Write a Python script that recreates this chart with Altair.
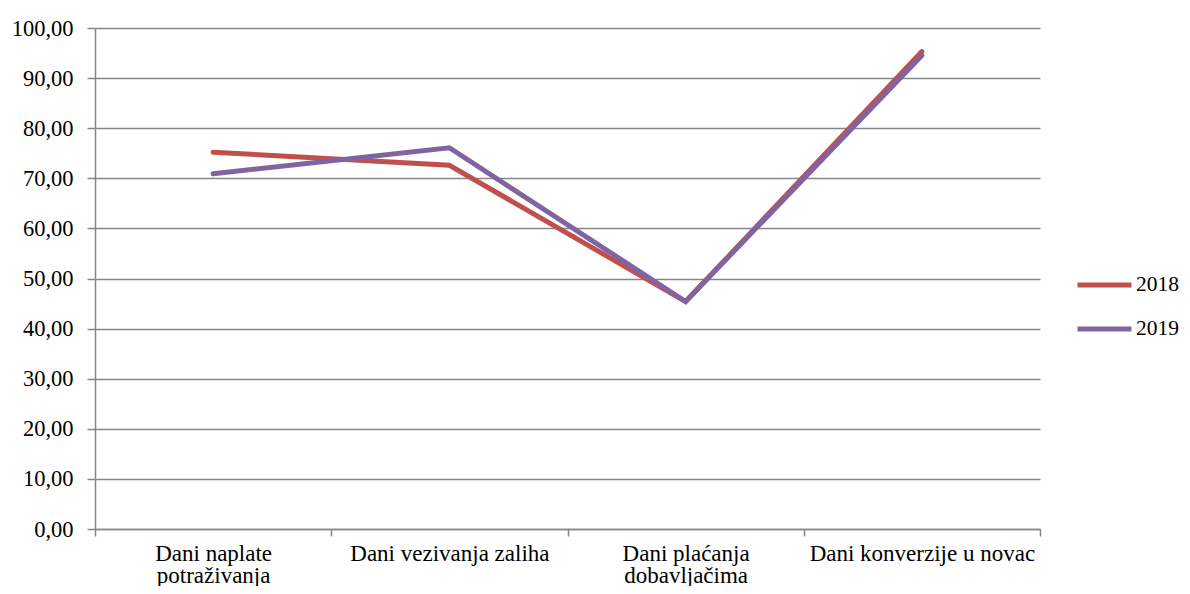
import altair as alt
import pandas as pd

categories = ["Dani naplate potraživanja", "Dani vezivanja zaliha", "Dani plaćanja dobavljačima", "Dani konverzije u novac"]
label_lines = [["Dani naplate", "potraživanja"], ["Dani vezivanja zaliha"], ["Dani plaćanja", "dobavljačima"], ["Dani konverzije u novac"]]
series = ["2018", "2019"]
values_2018 = [75.2, 72.6, 45.4, 95.3]
values_2019 = [70.9, 76.1, 45.4, 94.5]
colors = ["#C0504D", "#8064A2"]

rows = []
for c, v in zip(categories, values_2018):
    rows.append({"Kategorija": c, "Godina": "2018", "Vrijednost": v})
for c, v in zip(categories, values_2019):
    rows.append({"Kategorija": c, "Godina": "2019", "Vrijednost": v})
df = pd.DataFrame(rows)

expr_parts = []
for c, lines in zip(categories, label_lines):
    arr = "[" + ",".join("'" + l + "'" for l in lines) + "]"
    expr_parts.append(f"datum.value == '{c}' ? {arr} : ")
label_expr = "".join(expr_parts) + "datum.value"

FONT = "Liberation Serif, Times New Roman, serif"
GRAY = "#868686"

chart = alt.Chart(df).mark_line(strokeWidth=5, strokeCap="round").encode(
    x=alt.X("Kategorija:N", sort=categories, bandPosition=0.5,
            scale=alt.Scale(type="band", paddingInner=0, paddingOuter=0),
            axis=alt.Axis(title=None, labelAngle=0, tickBand="extent", grid=False,
                          labelExpr=label_expr, labelFont=FONT, labelFontSize=23,
                          labelColor="#000000", labelPadding=6, tickSize=7, labelLimit=0,
                          tickColor=GRAY, domainColor=GRAY, domainWidth=1.5, tickWidth=1.5,
                          labelLineHeight=22, labelBaseline="top")),
    y=alt.Y("Vrijednost:Q", scale=alt.Scale(domain=[0, 100], nice=False),
            axis=alt.Axis(title=None, values=list(range(0, 101, 10)),
                          labelExpr="replace(format(datum.value, '.2f'), '.', ',')",
                          labelFont=FONT, labelFontSize=22.5, labelColor="#000000",
                          labelPadding=14, tickSize=8, tickColor=GRAY, tickWidth=1.5,
                          domainColor=GRAY, domainWidth=1.5,
                          gridColor=GRAY, gridWidth=1.5)),
    color=alt.Color("Godina:N", scale=alt.Scale(domain=series, range=colors),
                    legend=alt.Legend(title=None, orient="none", legendX=980, legendY=247,
                                      padding=0, symbolType="stroke", symbolSize=2916,
                                      symbolStrokeWidth=5, clipHeight=20, rowPadding=22,
                                      labelOffset=2, labelFont=FONT, labelFontSize=21.5,
                                      labelColor="#000000")),
).properties(
    width=945, height=501,
    padding={"left": 87, "top": 20, "right": 142, "bottom": 57},
    autosize=alt.AutoSizeParams(type="none"),
).configure_view(stroke=None).configure_legend(symbolStrokeColor=None)

chart.save("out.html", embed_options={"renderer": "svg", "actions": False})
